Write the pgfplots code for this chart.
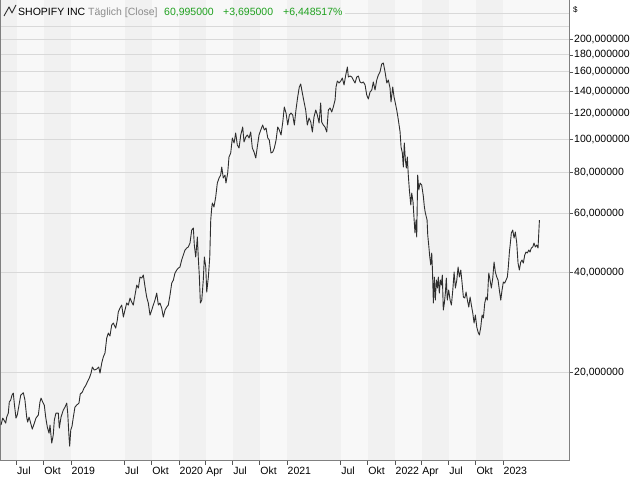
\documentclass[border=0pt]{standalone}
\usepackage{pgfplots}
\usepackage{pgfplotstable}
\pgfplotsset{compat=1.18}
\usepackage{fontspec}
\setmainfont{Liberation Sans}
\definecolor{bgdark}{HTML}{F1F1F1}
\definecolor{bglight}{HTML}{F8F8F8}
\definecolor{gridc}{HTML}{D9D9D9}
\definecolor{framec}{HTML}{808080}
\definecolor{tickc}{HTML}{555555}
\definecolor{linec}{HTML}{2E2E2E}
\definecolor{hdrgreen}{HTML}{1EA01E}
\definecolor{hdrgray}{HTML}{8C8C8C}
\pgfplotstableread{
t v
2018.352 13.85
2018.368 14.54
2018.380 14.34
2018.396 14.04
2018.405 14.64
2018.420 15.05
2018.429 16.25
2018.442 16.47
2018.454 17.05
2018.466 17.29
2018.477 15.91
2018.491 14.54
2018.503 14.85
2018.519 15.91
2018.535 17.05
2018.559 17.33
2018.574 16.47
2018.590 14.64
2018.599 14.14
2018.612 14.64
2018.627 14.04
2018.642 13.47
2018.661 14.04
2018.676 14.54
2018.698 14.85
2018.713 16.25
2018.723 16.70
2018.738 16.25
2018.753 15.91
2018.766 14.64
2018.781 13.66
2018.797 13.10
2018.806 13.85
2018.822 12.23
2018.836 12.92
2018.846 14.34
2018.861 15.05
2018.883 15.05
2018.892 13.57
2018.908 14.64
2018.929 15.37
2018.945 15.69
2018.961 16.13
2018.970 15.05
2018.982 12.75
2018.988 11.97
2018.998 13.38
2019.010 13.76
2019.022 14.64
2019.037 15.69
2019.053 15.91
2019.074 16.13
2019.086 17.17
2019.105 17.41
2019.121 17.90
2019.139 18.28
2019.155 18.79
2019.170 19.19
2019.186 19.86
2019.198 20.71
2019.216 20.28
2019.238 20.42
2019.257 20.71
2019.269 19.86
2019.285 21.29
2019.299 22.19
2019.315 22.82
2019.331 25.32
2019.346 26.21
2019.361 25.67
2019.377 27.70
2019.392 28.09
2019.414 27.13
2019.429 28.68
2019.438 30.31
2019.454 31.17
2019.470 31.82
2019.485 29.28
2019.500 30.74
2019.516 32.27
2019.531 31.82
2019.547 33.40
2019.562 32.49
2019.577 31.82
2019.593 34.11
2019.609 36.55
2019.624 35.80
2019.639 38.64
2019.655 38.37
2019.670 39.18
2019.686 36.05
2019.701 33.64
2019.716 32.27
2019.732 29.69
2019.748 30.74
2019.762 31.82
2019.778 32.94
2019.794 34.58
2019.809 31.82
2019.824 32.27
2019.840 31.17
2019.855 29.28
2019.871 30.74
2019.886 31.38
2019.901 31.82
2019.917 34.11
2019.933 37.06
2019.948 37.84
2019.963 39.72
2019.979 40.56
2019.994 41.12
2020.009 41.41
2020.025 43.47
2020.040 45.00
2020.056 46.59
2020.072 47.24
2020.086 47.57
2020.102 48.91
2020.118 53.52
2020.133 54.26
2020.142 48.23
2020.155 44.38
2020.170 50.98
2020.179 44.08
2020.188 39.18
2020.198 32.27
2020.211 32.94
2020.225 37.84
2020.235 44.38
2020.248 41.41
2020.257 34.82
2020.272 38.64
2020.285 44.38
2020.294 57.36
2020.303 62.33
2020.309 64.53
2020.324 62.77
2020.340 67.27
2020.355 74.13
2020.371 76.74
2020.386 78.35
2020.396 82.82
2020.410 76.74
2020.426 78.35
2020.435 74.13
2020.451 79.45
2020.463 88.77
2020.479 91.26
2020.494 101.26
2020.510 97.81
2020.525 104.83
2020.540 96.47
2020.556 94.48
2020.572 103.39
2020.590 109.28
2020.602 98.49
2020.618 101.96
2020.633 103.39
2020.649 101.26
2020.664 105.56
2020.679 94.48
2020.695 91.90
2020.711 88.15
2020.725 95.14
2020.741 103.39
2020.757 107.03
2020.775 110.81
2020.790 107.03
2020.806 108.53
2020.822 101.26
2020.836 99.87
2020.852 91.26
2020.868 91.90
2020.883 94.48
2020.899 99.87
2020.914 109.28
2020.929 107.03
2020.945 103.39
2020.961 113.14
2020.975 125.53
2020.991 120.42
2021.007 110.81
2021.022 118.76
2021.037 120.42
2021.053 118.76
2021.068 110.81
2021.083 122.95
2021.099 134.54
2021.114 144.20
2021.127 147.23
2021.142 138.33
2021.158 129.96
2021.173 122.95
2021.188 110.81
2021.204 116.32
2021.220 113.14
2021.235 105.56
2021.250 117.13
2021.266 122.95
2021.281 118.76
2021.297 112.36
2021.312 129.06
2021.321 113.14
2021.336 110.81
2021.352 109.28
2021.368 105.56
2021.383 122.95
2021.399 124.67
2021.414 121.26
2021.429 125.53
2021.445 131.77
2021.454 144.20
2021.466 150.32
2021.482 148.25
2021.498 150.32
2021.512 153.48
2021.528 146.21
2021.544 156.71
2021.559 165.64
2021.568 154.55
2021.584 155.62
2021.600 154.55
2021.614 151.37
2021.630 148.25
2021.646 154.55
2021.661 155.62
2021.676 149.29
2021.692 148.25
2021.707 149.29
2021.723 146.21
2021.738 136.42
2021.753 132.69
2021.769 139.29
2021.785 141.23
2021.799 149.29
2021.815 141.23
2021.831 151.37
2021.846 156.71
2021.861 160.00
2021.877 169.12
2021.892 170.30
2021.908 160.00
2021.924 148.25
2021.938 151.37
2021.954 143.20
2021.963 129.96
2021.979 144.20
2021.991 134.54
2022.003 129.06
2022.016 122.95
2022.031 114.72
2022.047 105.56
2022.056 95.14
2022.068 91.26
2022.077 82.82
2022.086 97.81
2022.096 86.94
2022.105 82.25
2022.114 88.77
2022.123 78.35
2022.133 70.62
2022.146 63.64
2022.155 69.16
2022.167 64.98
2022.176 58.16
2022.185 52.42
2022.195 57.36
2022.201 50.98
2022.210 78.35
2022.220 70.62
2022.232 74.13
2022.247 73.11
2022.262 67.74
2022.272 62.77
2022.281 60.21
2022.297 57.36
2022.303 51.69
2022.312 48.23
2022.322 44.38
2022.331 41.99
2022.340 45.63
2022.346 41.12
2022.355 32.27
2022.364 38.64
2022.373 32.94
2022.383 37.84
2022.392 35.80
2022.401 38.64
2022.410 34.58
2022.420 37.84
2022.429 36.55
2022.438 39.18
2022.447 30.74
2022.457 32.27
2022.466 34.58
2022.475 38.37
2022.484 32.94
2022.497 35.31
2022.510 32.94
2022.522 31.82
2022.535 35.31
2022.547 40.00
2022.559 35.80
2022.572 37.84
2022.584 41.41
2022.596 38.64
2022.609 40.56
2022.621 37.06
2022.633 33.64
2022.646 33.40
2022.658 34.82
2022.670 32.94
2022.683 31.38
2022.695 33.64
2022.707 31.82
2022.720 30.10
2022.732 28.09
2022.744 29.69
2022.757 27.32
2022.769 26.39
2022.781 25.85
2022.794 27.32
2022.806 29.69
2022.818 29.08
2022.831 32.27
2022.843 33.64
2022.855 32.94
2022.868 39.72
2022.880 37.84
2022.892 35.80
2022.905 38.37
2022.917 42.87
2022.929 40.00
2022.942 38.64
2022.954 37.84
2022.966 35.31
2022.979 32.94
2022.991 35.31
2023.003 37.32
2023.016 37.06
2023.028 37.84
2023.040 38.64
2023.049 41.41
2023.059 45.95
2023.068 48.91
2023.077 52.42
2023.090 53.52
2023.102 50.63
2023.114 52.78
2023.127 48.91
2023.139 42.57
2023.151 40.56
2023.164 42.87
2023.176 43.47
2023.188 42.57
2023.201 45.00
2023.213 45.95
2023.225 45.63
2023.238 46.59
2023.250 45.95
2023.262 47.24
2023.275 47.57
2023.287 48.91
2023.299 47.57
2023.312 48.23
2023.324 47.24
2023.331 52.42
2023.337 57.36
}\shop

\begin{document}
\begin{tikzpicture}[x=1bp,y=1bp,font=\fontsize{10.5bp}{12bp}\selectfont]
\begin{axis}[
  set layers,
  at={(0bp,19bp)}, anchor=south west,
  scale only axis, width=569bp, height=461bp,
  xmin=2018.343, xmax=2023.611,
  ymode=log, ymin=10.8, ymax=263.5,
  axis line style={framec, line width=1bp},
  tick style={tickc, line width=0.8bp},
  tick align=outside,
  major tick length=4bp,
  minor tick num=0,
  xtick pos=bottom,
  ytick pos=right,
  yticklabel pos=right,
  xtick={2018.496,2018.748,2019,2019.496,2019.748,2020,2020.247,2020.496,2020.748,2021,2021.496,2021.748,2022,2022.247,2022.496,2022.748,2023},
  xticklabels={Jul,Okt,2019,Jul,Okt,2020,Apr,Jul,Okt,2021,Jul,Okt,2022,Apr,Jul,Okt,2023},
  ytick={20,40,60,80,100,120,140,160,180,200},
  yticklabels={{20,000000},{40,000000},{60,000000},{80,000000},{100,000000},{120,000000},{140,000000},{160,000000},{180,000000},{200,000000}},
  extra y ticks={220},
  extra y tick labels={},
  extra y tick style={major tick length=0pt, grid=major},
  ymajorgrids,
  major grid style={gridc, line width=1bp},
  xticklabel style={anchor=north west, inner sep=0pt, xshift=0.5bp, yshift=-2bp, font=\fontsize{10.5bp}{12bp}\selectfont},
  yticklabel style={anchor=west, inner sep=0pt, xshift=1bp, font=\fontsize{10.5bp}{12bp}\selectfont},
  clip=true,
]
\begin{pgfonlayer}{axis background}
\fill[bglight] (axis cs:2018.343,10.8) rectangle (axis cs:2023.611,263.5);
\fill[bgdark] (axis cs:2018.343,10.8) rectangle (axis cs:2018.496,263.5);
\fill[bgdark] (axis cs:2018.748,10.8) rectangle (axis cs:2019.000,263.5);
\fill[bgdark] (axis cs:2019.496,10.8) rectangle (axis cs:2019.748,263.5);
\fill[bgdark] (axis cs:2020.000,10.8) rectangle (axis cs:2020.247,263.5);
\fill[bgdark] (axis cs:2020.496,10.8) rectangle (axis cs:2020.748,263.5);
\fill[bgdark] (axis cs:2021.000,10.8) rectangle (axis cs:2021.496,263.5);
\fill[bgdark] (axis cs:2021.748,10.8) rectangle (axis cs:2022.000,263.5);
\fill[bgdark] (axis cs:2022.247,10.8) rectangle (axis cs:2022.496,263.5);
\fill[bgdark] (axis cs:2022.748,10.8) rectangle (axis cs:2023.000,263.5);
\end{pgfonlayer}
\begin{pgfonlayer}{axis grid}
\draw[gridc, line width=1bp] (axis cs:2021.54,240) -- (axis cs:2023.611,240);
\end{pgfonlayer}
\addplot[linec, line width=0.9bp, line join=round] table[x=t,y=v]{\shop};
\end{axis}
% header
\draw[linec, line width=0.9bp, line join=round] (4,464) -- (9,473) -- (12,467) -- (16,475);
\node[anchor=base west, inner sep=0pt] at (18,464.5) {SHOPIFY INC};
\node[anchor=base west, inner sep=0pt, text=hdrgray] at (88,464.5) {Täglich [Close]};
\node[anchor=base west, inner sep=0pt, text=hdrgreen] at (164,464.5) {60,995000};
\node[anchor=base west, inner sep=0pt, text=hdrgreen] at (223,464.5) {+3,695000};
\node[anchor=base west, inner sep=0pt, text=hdrgreen] at (283,464.5) {+6,448517\%};
\node[anchor=west, inner sep=0pt, font=\fontsize{8bp}{9bp}\selectfont] at (573,470) {\$};
\pgfresetboundingbox
\path[use as bounding box] (0,0) rectangle (640,480);
\end{tikzpicture}
\end{document}
